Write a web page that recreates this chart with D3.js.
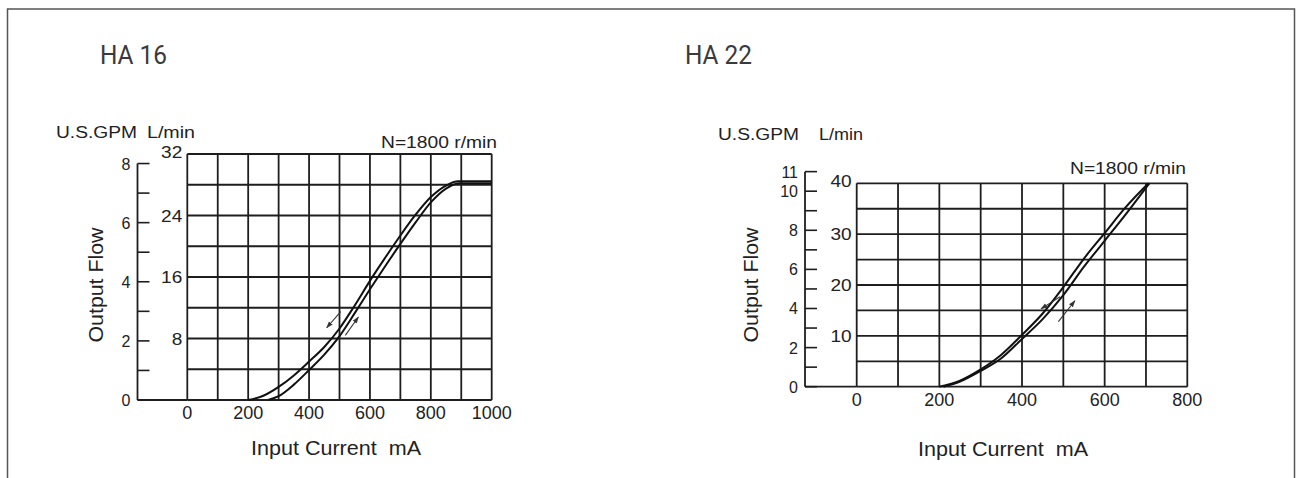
<!DOCTYPE html>
<html>
<head>
<meta charset="utf-8">
<script src="https://cdn.jsdelivr.net/npm/d3@7/dist/d3.min.js"></script>
<style>
  html, body { margin: 0; padding: 0; background: #fff; }
  svg { display: block; }
  text { font-family: "Liberation Sans", Arial, sans-serif; fill: #222; }
</style>
</head>
<body>
<svg id="chart" width="1298" height="478"></svg>
<script>
// ---- HA 16 : flow (L/min) vs. input current (mA), two hysteresis branches ----
const ha16DownCurrent = [200, 250, 300, 350, 400, 450, 500, 550, 600, 650, 700, 750, 800, 850, 890, 1000];
const ha16DownFlow    = [0, 0.55, 1.7, 3.2, 5.0, 6.9, 9.3, 12.3, 15.5, 18.5, 21.4, 24.1, 26.4, 27.9, 28.45, 28.45];
const ha16UpCurrent   = [265, 300, 350, 400, 450, 500, 550, 600, 650, 700, 750, 800, 850, 895, 1000];
const ha16UpFlow      = [0, 0.5, 2.0, 3.9, 5.9, 8.3, 11.3, 14.4, 17.4, 20.3, 23.1, 25.7, 27.5, 28.2, 28.2];

// ---- HA 22 ----
const ha22DownCurrent = [200, 250, 300, 350, 400, 450, 500, 550, 600, 650, 706];
const ha22DownFlow    = [0, 1.2, 3.4, 6.3, 10.2, 14.4, 19.6, 25.2, 30.2, 35.2, 40.0];
const ha22UpCurrent   = [210, 250, 300, 350, 400, 450, 500, 550, 600, 650, 708];
const ha22UpFlow      = [0, 1.0, 3.1, 5.6, 9.4, 13.3, 18.0, 23.6, 28.7, 33.8, 40.0];

// Direction arrows [current, flow] -> [current, flow]
const ha16Arrows = [[[504, 11.5], [458, 9.4]], [[519, 8.4], [562, 10.8]]];
const ha22Arrows = [[[492, 17.7], [446, 15.3]], [[488, 12.8], [528, 16.9]]];

// Tick values
const ha16CurrentTicks = [0, 200, 400, 600, 800, 1000];
const ha16LpmTicks = [8, 16, 24, 32];
const ha16GpmTicks = [0, 1, 2, 3, 4, 5, 6, 7, 8];
const ha16GpmLabels = [0, 2, 4, 6, 8];
const ha22CurrentTicks = [0, 200, 400, 600, 800];
const ha22LpmTicks = [10, 20, 30, 40];
const ha22GpmTicks = [0, 1, 2, 3, 4, 5, 6, 7, 8, 9, 10, 11];
const ha22GpmLabels = [0, 2, 4, 6, 8, 10, 11];

const lpmPerGpm = 3.845;

const svg = d3.select("#chart");

// outer frame
svg.append("path")
  .attr("d", "M7.5,480 V9 H1294.5 V480")
  .attr("fill", "none").attr("stroke", "#555").attr("stroke-width", 1.5);

const panels = [
  {
    title: "HA 16", titleX: 100, titleY: 64,
    xMax: 1000, xStep: 100, yMax: 32, yStep: 4,
    left: 187.3, right: 491.7, top: 154, bottom: 400, gpmAxisX: 137.5,
    currentTicks: ha16CurrentTicks, lpmTicks: ha16LpmTicks,
    gpmTicks: ha16GpmTicks, gpmLabels: ha16GpmLabels,
    series: [[ha16DownCurrent, ha16DownFlow], [ha16UpCurrent, ha16UpFlow]],
    arrows: ha16Arrows,
    gpmText: [56, 81], lpmText: [147, 48], unitY: 138,
    speedEnd: 497, speedY: 148,
    xTitleX: 336, xTitleY: 455, yTitleX: 103, yTitleY: 285
  },
  {
    title: "HA 22", titleX: 685, titleY: 64,
    xMax: 800, xStep: 100, yMax: 40, yStep: 5,
    left: 856.7, right: 1187.3, top: 183.3, bottom: 386.7, gpmAxisX: 805,
    currentTicks: ha22CurrentTicks, lpmTicks: ha22LpmTicks,
    gpmTicks: ha22GpmTicks, gpmLabels: ha22GpmLabels,
    series: [[ha22DownCurrent, ha22DownFlow], [ha22UpCurrent, ha22UpFlow]],
    arrows: ha22Arrows,
    gpmText: [718, 81], lpmText: [819, 44], unitY: 140,
    speedEnd: 1186, speedY: 174,
    xTitleX: 1003, xTitleY: 456, yTitleX: 758, yTitleY: 285
  }
];

svg.append("defs").append("marker")
  .attr("id", "head").attr("viewBox", "0 0 10 10")
  .attr("refX", 9).attr("refY", 5)
  .attr("markerWidth", 7).attr("markerHeight", 7)
  .attr("markerUnits", "userSpaceOnUse")
  .attr("orient", "auto")
  .append("path").attr("d", "M0,1.5 L10,5 L0,8.5 Z").attr("fill", "#333");

panels.forEach(p => {
  const g = svg.append("g");
  const x = d3.scaleLinear().domain([0, p.xMax]).range([p.left, p.right]);
  const y = d3.scaleLinear().domain([0, p.yMax]).range([p.bottom, p.top]);
  const gpm = v => y(v * lpmPerGpm);

  // title
  g.append("text").attr("x", p.titleX).attr("y", p.titleY)
    .style("font-family", "Roboto, 'DejaVu Sans', sans-serif")
    .style("font-size", "26px").style("fill", "#3a3a3a")
    .attr("textLength", 67).attr("lengthAdjust", "spacingAndGlyphs")
    .text(p.title);

  // grid
  const grid = g.append("g").attr("stroke", "#1e1e1e").attr("stroke-width", 1.8);
  d3.range(0, p.xMax + 1, p.xStep).forEach(v => {
    grid.append("line").attr("x1", x(v)).attr("x2", x(v)).attr("y1", y(0)).attr("y2", y(p.yMax));
  });
  d3.range(0, p.yMax + 1, p.yStep).forEach(v => {
    grid.append("line").attr("x1", x(0)).attr("x2", x(p.xMax)).attr("y1", y(v)).attr("y2", y(v));
  });
  // baseline running under the GPM axis
  grid.append("line").attr("x1", p.gpmAxisX).attr("x2", x(0)).attr("y1", y(0)).attr("y2", y(0));

  // GPM axis
  const gmax = d3.max(p.gpmTicks);
  grid.append("line").attr("x1", p.gpmAxisX).attr("x2", p.gpmAxisX)
    .attr("y1", gpm(0)).attr("y2", gpm(gmax));
  p.gpmTicks.forEach(v => {
    grid.append("line").attr("x1", p.gpmAxisX).attr("x2", p.gpmAxisX + 12)
      .attr("y1", gpm(v)).attr("y2", gpm(v)).attr("stroke-width", 1.6);
  });
  g.selectAll(".gpmLbl").data(p.gpmLabels).join("text")
    .attr("x", p.gpmAxisX - 7).attr("y", d => gpm(d) + 6)
    .attr("text-anchor", "end").style("font-size", "16px")
    .text(d => d);

  // L/min labels
  g.selectAll(".lpmLbl").data(p.lpmTicks).join("text")
    .attr("x", x(0) - 5).attr("y", d => y(d) + (d === p.yMax ? 4 : 6))
    .attr("text-anchor", "end").style("font-size", "17px")
    .attr("textLength", d => String(d).length * 10.6).attr("lengthAdjust", "spacingAndGlyphs")
    .text(d => d);

  // current labels
  g.selectAll(".curLbl").data(p.currentTicks).join("text")
    .attr("x", d => x(d)).attr("y", y(0) + 19)
    .attr("text-anchor", "middle").style("font-size", "18px")
    .text(d => d);

  // unit labels
  g.append("text").attr("x", p.gpmText[0]).attr("y", p.unitY).style("font-size", "16px")
    .attr("textLength", p.gpmText[1]).attr("lengthAdjust", "spacingAndGlyphs").text("U.S.GPM");
  g.append("text").attr("x", p.lpmText[0]).attr("y", p.unitY).style("font-size", "16px")
    .attr("textLength", p.lpmText[1]).attr("lengthAdjust", "spacingAndGlyphs").text("L/min");
  g.append("text").attr("x", p.speedEnd - 116).attr("y", p.speedY)
    .style("font-size", "17px")
    .attr("textLength", 116).attr("lengthAdjust", "spacingAndGlyphs")
    .text("N=1800 r/min");

  // axis titles
  g.append("text").attr("x", p.xTitleX).attr("y", p.xTitleY).attr("text-anchor", "middle")
    .style("font-size", "20px").attr("xml:space", "preserve")
    .attr("textLength", 170).attr("lengthAdjust", "spacingAndGlyphs")
    .text("Input Current  mA");
  g.append("text")
    .attr("transform", `translate(${p.yTitleX},${p.yTitleY}) rotate(-90)`)
    .attr("text-anchor", "middle").style("font-size", "20px")
    .attr("textLength", 115).attr("lengthAdjust", "spacingAndGlyphs")
    .text("Output Flow");

  // curves
  const line = d3.line().x(d => x(d[0])).y(d => y(d[1])).curve(d3.curveMonotoneX);
  p.series.forEach(([cur, flow]) => {
    g.append("path").datum(cur.map((c, i) => [c, flow[i]]))
      .attr("d", line).attr("fill", "none")
      .attr("stroke", "#111").attr("stroke-width", 2);
  });

  // direction arrows
  p.arrows.forEach(([a, b]) => {
    g.append("line")
      .attr("x1", x(a[0])).attr("y1", y(a[1]))
      .attr("x2", x(b[0])).attr("y2", y(b[1]))
      .attr("stroke", "#333").attr("stroke-width", 1.1)
      .attr("marker-end", "url(#head)");
  });
});
</script>
</body>
</html>
